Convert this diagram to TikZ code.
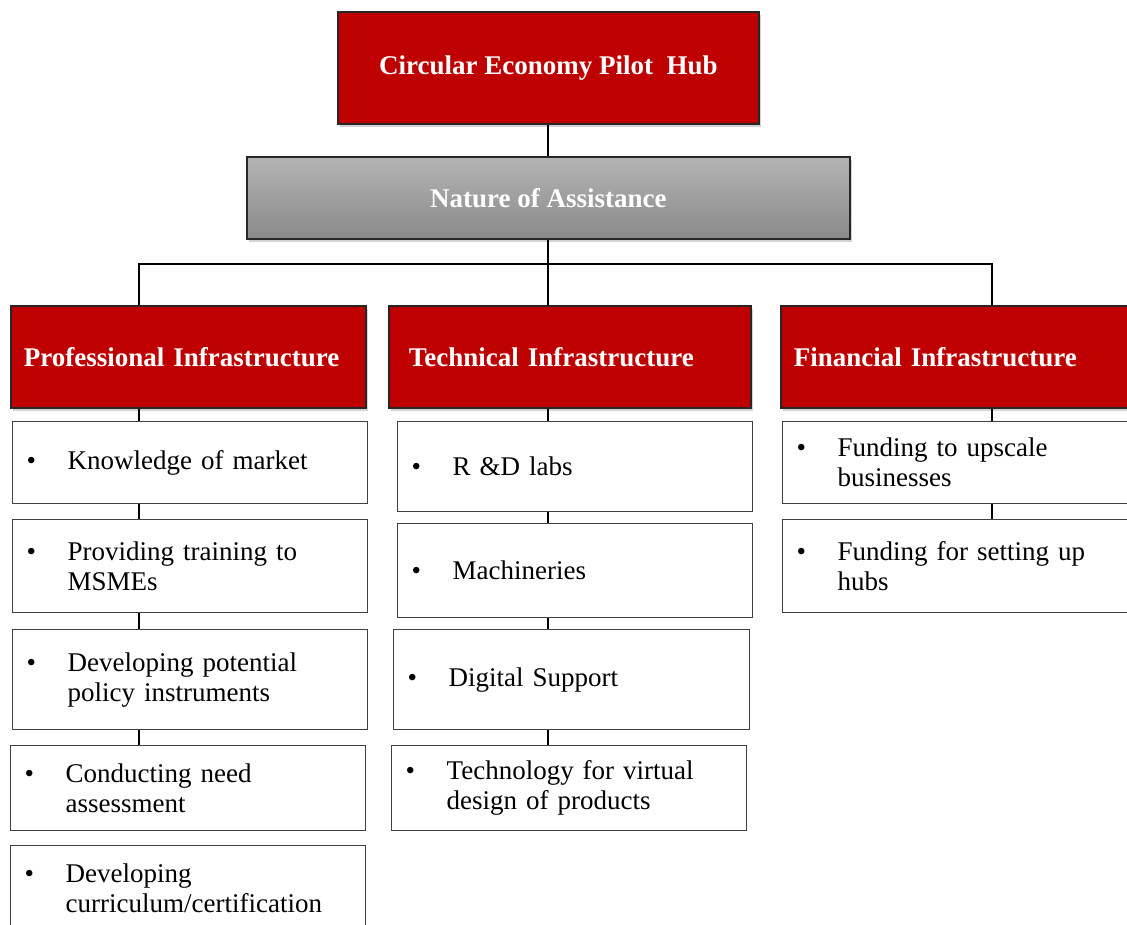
\documentclass[tikz,border=0pt]{standalone}
\usepackage{fontspec}
\setmainfont{Liberation Serif}
\usetikzlibrary{shadows}

\definecolor{hubred}{HTML}{BE0000}
\definecolor{graytop}{HTML}{B4B4B4}
\definecolor{graybot}{HTML}{8A8A8A}
\newcommand{\bul}[1]{\makebox[41pt][l]{\textbullet}\parbox[t]{300pt}{#1}}

\begin{document}
\begin{tikzpicture}[
	x=1pt, y=-1pt,
	every node/.style={font=\fontsize{27}{30}\selectfont},
	headbox/.style={draw=black!85, line width=1.6pt, anchor=north west,
		font=\fontsize{27}{30}\selectfont\bfseries, text=white,
		drop shadow={shadow xshift=2pt, shadow yshift=-3pt, opacity=0.35}},
	redbox/.style={headbox, fill=hubred, inner xsep=13pt, align=left},
	itembox/.style={draw=black!75, line width=1.3pt, fill=white, anchor=north west,
		inner xsep=14pt, text width=327pt, align=left},
	link/.style={line width=1.8pt, black}
]
\useasboundingbox (0,0) rectangle (1127,924);

% top of the tree
\node[headbox, fill=hubred, minimum width=421pt, minimum height=112pt] (hub) at (337,11) {Circular Economy Pilot\ \ Hub};
\node[headbox, top color=graytop, bottom color=graybot, minimum width=603pt, minimum height=82pt] (nature) at (246,156) {Nature of Assistance};

\node[redbox, text width=329pt, minimum height=102pt] (prof) at (10,305) {Professional Infrastructure};
\node[redbox, text width=322pt, inner xsep=20pt, minimum height=102pt] (tech) at (388,305) {Technical Infrastructure};
\node[redbox, text width=398pt, minimum height=102pt] (fin) at (780,305) {Financial Infrastructure};

% professional column
\node[itembox, minimum height=82pt] (p1) at (12,421) {\bul{Knowledge of market}};
\node[itembox, minimum height=93pt] (p2) at (12,519) {\bul{Providing training to\\MSMEs}};
\node[itembox, minimum height=100pt] (p3) at (12,629) {\bul{Developing potential\\policy instruments}};
\node[itembox, minimum height=85pt] (p4) at (10,745) {\bul{Conducting need\\assessment}};
\node[itembox, minimum height=86pt] (p5) at (10,845) {\bul{Developing\\curriculum/certification}};

% technical column
\node[itembox, minimum height=90pt] (t1) at (397,421) {\bul{R \&D labs}};
\node[itembox, minimum height=94pt] (t2) at (397,523) {\bul{Machineries}};
\node[itembox, text width=328pt, minimum height=100pt] (t3) at (393,629) {\bul{Digital Support}};
\node[itembox, minimum height=85pt] (t4) at (391,745) {\bul{Technology for virtual\\design of products}};

% financial column
\node[itembox, text width=396pt, minimum height=82pt] (f1) at (782,421) {\bul{Funding to upscale\\businesses}};
\node[itembox, text width=396pt, minimum height=93pt] (f2) at (782,519) {\bul{Funding for setting up\\hubs}};

\coordinate (colP) at (139,0);
\coordinate (colT) at (548,0);
\coordinate (colF) at (992,0);
\coordinate (bar) at (548,264);

\draw[link] (hub.south -| colT) -- (nature.north -| colT);
\draw[link] (nature.south -| colT) -- (tech.north -| colT);
\draw[link] (prof.north -| colP) |- (bar) -| (fin.north -| colF);

\foreach \a/\b in {prof/p1, p1/p2, p2/p3, p3/p4}
	\draw[link] (\a.south -| colP) -- (\b.north -| colP);
\foreach \a/\b in {tech/t1, t1/t2, t2/t3, t3/t4}
	\draw[link] (\a.south -| colT) -- (\b.north -| colT);
\foreach \a/\b in {fin/f1, f1/f2}
	\draw[link] (\a.south -| colF) -- (\b.north -| colF);
\end{tikzpicture}
\end{document}
